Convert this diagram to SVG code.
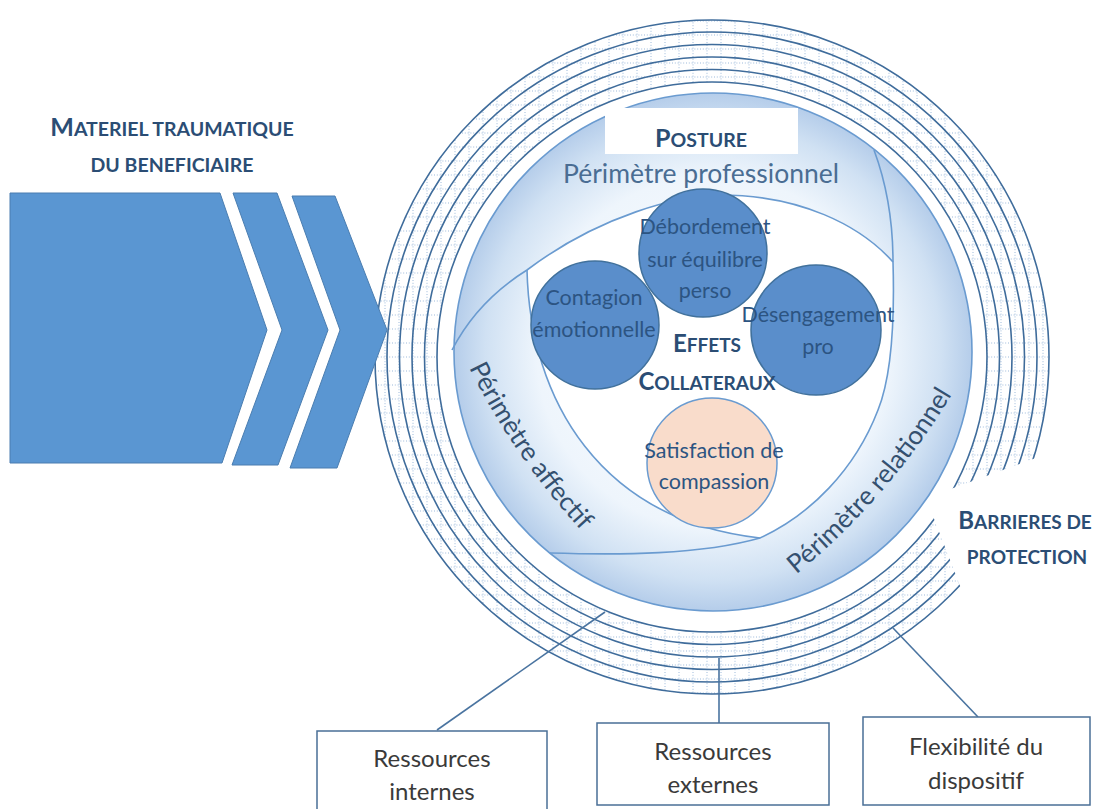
<svg xmlns="http://www.w3.org/2000/svg" width="1097" height="809" viewBox="0 0 1097 809">
<style>
.chev{fill:#5a96d2;stroke:#4a7db0;stroke-width:1}
.ring{fill:none;stroke:#3f6c9b;stroke-width:1.6}
.bandline{fill:none;stroke:#6a9bd0;stroke-width:1.6}
.node{fill:#5a8ecb;stroke:#41719c;stroke-width:1.5}
.ntxt{font-family:Lato,"Open Sans",sans-serif;font-size:21.5px;fill:#2c5482;text-anchor:middle}
.sc{font-family:Lato,"Open Sans",sans-serif;font-weight:bold;fill:#2b4d74;text-anchor:middle}
.per{font-family:Lato,"Open Sans",sans-serif;font-size:26px;fill:#34506f}
.conn{fill:none;stroke:#4a74a0;stroke-width:1.6}
.box{fill:#ffffff;stroke:#4a6f96;stroke-width:1.5}
.btxt{font-family:Lato,"Open Sans",sans-serif;font-size:24px;fill:#3a3a3a;text-anchor:middle}
</style>
<defs>
<pattern id="hatch" width="14" height="14" patternUnits="userSpaceOnUse">
<path d="M0,7 H14 M7,0 V14" stroke="#9dbadb" stroke-width="1" stroke-dasharray="1,1.8" fill="none"/>
</pattern>
<radialGradient id="diskg" cx="713" cy="352" r="259" gradientUnits="userSpaceOnUse">
<stop offset="0" stop-color="#ffffff"/>
<stop offset="0.68" stop-color="#eef5fc"/>
<stop offset="0.88" stop-color="#d0e1f3"/>
<stop offset="1" stop-color="#b5cdea"/>
</radialGradient>
<mask id="gap" maskUnits="userSpaceOnUse" x="0" y="0" width="1097" height="809">
<rect x="0" y="0" width="1097" height="809" fill="#fff"/>
<polygon points="926,498 1085,440 1097,440 1097,700 985,650" fill="#000"/>
</mask>
<path id="pAff" d="M456,340 A700,700 0 0 0 603,553"/>
<path id="pRel" d="M774,592 A700,700 0 0 0 966,370"/>
</defs>

<g id="barrieres" mask="url(#gap)">
<circle cx="712" cy="357" r="306" fill="none" stroke="url(#hatch)" stroke-width="62"/>
<circle class="ring" cx="712" cy="357" r="275"/>
<circle class="ring" cx="712" cy="357" r="287.5"/>
<circle class="ring" cx="712" cy="357" r="300"/>
<circle class="ring" cx="712" cy="357" r="312.5"/>
<circle class="ring" cx="712" cy="357" r="325"/>
<circle class="ring" cx="712" cy="357" r="337"/>
</g>

<g id="perimetres">
<circle cx="713" cy="352" r="259" fill="url(#diskg)" stroke="#6a9bd0" stroke-width="1.6"/>
<path d="M527,270 C600,215 680,195 720,195 C800,195 860,225 893,262 C895,330 890,380 878,410 C855,470 810,515 760,538 C600,520 530,400 527,270 Z" fill="#ffffff"/>
<path class="bandline" d="M452,350 C470,315 495,290 527,270 C600,215 680,195 720,195 C800,195 860,225 893,262"/>
<path class="bandline" d="M874,150 C887,185 893,225 893,262 C895,330 890,380 878,410 C855,470 810,515 760,538 C700,555 620,555 550,553"/>
<path class="bandline" d="M527,270 C530,400 600,520 760,538"/>
</g>

<g id="posture">
<rect x="605" y="108" width="193" height="46" fill="#ffffff"/>
<text class="sc" x="701" y="147"><tspan font-size="25">P</tspan><tspan font-size="19.5">OSTURE</tspan></text>
<text x="701" y="183" font-family="Lato,'Open Sans',sans-serif" font-size="26.5" fill="#4a6d93" text-anchor="middle">Périmètre professionnel</text>
</g>

<g id="perimetre-affectif">
<text class="per"><textPath href="#pAff" startOffset="50%" text-anchor="middle">Périmètre affectif</textPath></text>
</g>
<g id="perimetre-relationnel">
<text class="per"><textPath href="#pRel" startOffset="50%" text-anchor="middle">Périmètre relationnel</textPath></text>
</g>

<g id="debordement">
<circle class="node" cx="703" cy="253" r="64"/>
<text class="ntxt" x="705" y="234">Débordement</text>
<text class="ntxt" x="705" y="267">sur équilibre</text>
<text class="ntxt" x="705" y="298">perso</text>
</g>
<g id="contagion">
<circle class="node" cx="595" cy="325" r="64"/>
<text class="ntxt" x="594" y="305">Contagion</text>
<text class="ntxt" x="594" y="337">émotionnelle</text>
</g>
<g id="desengagement">
<circle class="node" cx="816" cy="330" r="65"/>
<text class="ntxt" x="818" y="322">Désengagement</text>
<text class="ntxt" x="818" y="354">pro</text>
</g>
<g id="satisfaction">
<circle cx="712" cy="463" r="65" fill="#f9dccb" stroke="#6a9bd0" stroke-width="1.5"/>
<text class="ntxt" x="714" y="458">Satisfaction de</text>
<text class="ntxt" x="714" y="489">compassion</text>
</g>
<g id="effets">
<text class="sc" x="707" y="352"><tspan font-size="24">E</tspan><tspan font-size="19">FFETS</tspan></text>
<text class="sc" x="707" y="390"><tspan font-size="24">C</tspan><tspan font-size="19">OLLATERAUX</tspan></text>
</g>

<g id="materiel">
<polygon class="chev" points="10,193 220,193 267,330 222,463 10,463"/>
<polygon class="chev" points="233,193 277,193 328,330 278,465 232,465 282,330"/>
<polygon class="chev" points="292,196 335,196 387,330 337,468 290,468 340,330"/>
<text class="sc" x="172" y="136"><tspan font-size="25">M</tspan><tspan font-size="19.5">ATERIEL TRAUMATIQUE</tspan></text>
<text class="sc" x="172" y="172" font-size="19.5">DU BENEFICIAIRE</text>
</g>

<g id="label-barrieres">
<text class="sc" x="1025" y="529"><tspan font-size="24">B</tspan><tspan font-size="19">ARRIERES DE</tspan></text>
<text class="sc" x="1027" y="564" font-size="19">PROTECTION</text>
</g>

<g id="connectors">
<line class="conn" x1="437" y1="730" x2="605" y2="612"/>
<line class="conn" x1="719" y1="723" x2="719" y2="658"/>
<line class="conn" x1="978" y1="717" x2="893" y2="628"/>
</g>

<g id="ressources-internes">
<rect class="box" x="317" y="731" width="230" height="90"/>
<text class="btxt" x="432" y="767">Ressources</text>
<text class="btxt" x="432" y="800">internes</text>
</g>
<g id="ressources-externes">
<rect class="box" x="597" y="723" width="232" height="82"/>
<text class="btxt" x="713" y="760">Ressources</text>
<text class="btxt" x="713" y="793">externes</text>
</g>
<g id="flexibilite">
<rect class="box" x="863" y="717" width="227" height="88"/>
<text class="btxt" x="976" y="755">Flexibilité du</text>
<text class="btxt" x="976" y="789">dispositif</text>
</g>
</svg>
